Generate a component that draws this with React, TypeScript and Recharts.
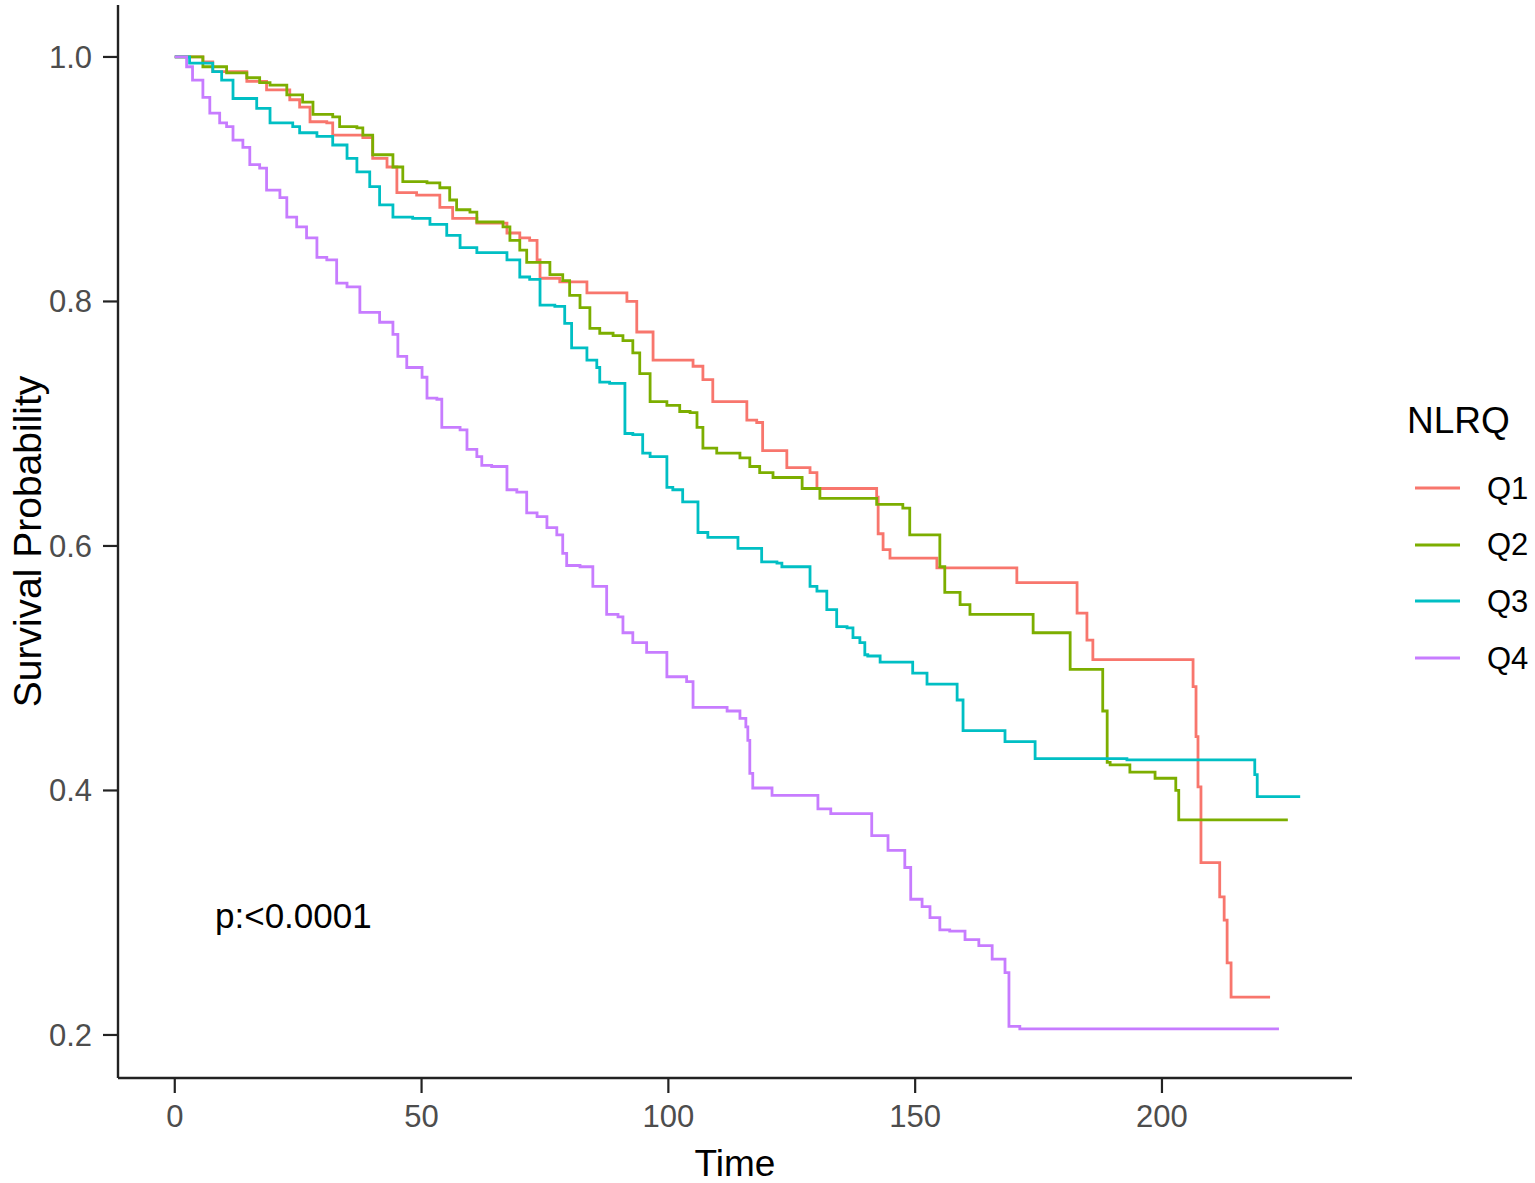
import { LineChart, Line, XAxis, YAxis } from 'recharts';

const FONT = '"Liberation Sans", Arial, Helvetica, sans-serif';

// Kaplan-Meier step points (time, survival after the step)
const q1Time = [0, 5.1, 5.7, 7.7, 14.6, 18.6, 23.3, 25.3, 27.4, 30.8, 32.0, 38.1, 40.1, 43.0, 45.0, 49.0, 53.7, 56.3, 61.2, 67.3, 69.9, 71.9, 73.4, 74.0, 78.0, 83.5, 91.6, 93.6, 95.8, 96.9, 105.0, 107.0, 109.0, 115.9, 117.9, 119.1, 124.0, 128.7, 130.1, 142.2, 142.5, 143.5, 144.9, 154.4, 170.6, 182.8, 184.8, 186.0, 206.3, 206.9, 207.3, 207.9, 211.7, 212.6, 213.2, 214.0, 221.9];
const q1Surv = [1.0, 1.0, 0.996, 0.988, 0.98, 0.973, 0.965, 0.959, 0.947, 0.946, 0.936, 0.934, 0.917, 0.91, 0.889, 0.887, 0.877, 0.868, 0.864, 0.856, 0.852, 0.85, 0.834, 0.819, 0.816, 0.807, 0.8, 0.775, 0.775, 0.752, 0.747, 0.736, 0.718, 0.703, 0.701, 0.678, 0.664, 0.66, 0.647, 0.64, 0.61, 0.597, 0.59, 0.582, 0.57, 0.545, 0.523, 0.507, 0.485, 0.444, 0.403, 0.341, 0.313, 0.294, 0.259, 0.231, 0.231];

const q2Time = [0, 5.7, 10.5, 14.6, 17.2, 19.3, 22.7, 25.9, 28.0, 32.0, 33.4, 36.9, 38.1, 40.1, 44.2, 46.2, 51.1, 53.7, 55.7, 57.1, 59.8, 61.2, 66.5, 67.9, 69.9, 71.3, 76.0, 78.6, 80.0, 82.1, 84.1, 86.1, 88.8, 90.8, 92.8, 94.2, 96.3, 99.7, 102.3, 104.4, 105.8, 107.0, 109.8, 114.5, 116.5, 118.5, 121.2, 127.1, 130.7, 142.2, 147.5, 148.9, 155.0, 156.0, 159.1, 161.1, 173.9, 181.4, 188.0, 188.9, 189.5, 193.5, 198.6, 202.8, 203.4, 225.5];
const q2Surv = [1.0, 0.992, 0.987, 0.983, 0.979, 0.977, 0.969, 0.963, 0.953, 0.951, 0.943, 0.942, 0.936, 0.92, 0.91, 0.898, 0.897, 0.893, 0.883, 0.875, 0.873, 0.865, 0.861, 0.85, 0.842, 0.832, 0.822, 0.817, 0.805, 0.795, 0.778, 0.774, 0.772, 0.768, 0.758, 0.741, 0.718, 0.715, 0.71, 0.709, 0.697, 0.68, 0.676, 0.672, 0.665, 0.66, 0.656, 0.647, 0.639, 0.634, 0.631, 0.609, 0.583, 0.562, 0.552, 0.544, 0.529, 0.499, 0.465, 0.423, 0.421, 0.415, 0.41, 0.4, 0.376, 0.376];

const q3Time = [0, 3.0, 7.7, 9.5, 11.8, 16.6, 19.3, 23.9, 25.3, 28.8, 32.0, 34.9, 36.9, 39.5, 41.5, 44.2, 48.2, 51.7, 55.1, 57.8, 61.2, 67.3, 69.9, 71.9, 74.0, 77.0, 79.0, 80.4, 83.5, 85.5, 86.1, 88.1, 91.2, 92.8, 94.8, 96.3, 99.7, 100.9, 102.9, 106.0, 108.0, 114.1, 118.9, 122.0, 123.0, 128.7, 130.1, 132.1, 134.1, 136.2, 137.4, 138.8, 139.8, 140.4, 142.9, 149.5, 152.4, 158.5, 159.7, 168.2, 174.3, 192.9, 218.8, 219.3, 228.0];
const q3Surv = [1.0, 0.995, 0.988, 0.981, 0.966, 0.958, 0.946, 0.943, 0.938, 0.935, 0.928, 0.917, 0.906, 0.894, 0.879, 0.869, 0.868, 0.863, 0.854, 0.844, 0.84, 0.834, 0.82, 0.818, 0.797, 0.796, 0.782, 0.762, 0.752, 0.746, 0.734, 0.733, 0.692, 0.691, 0.676, 0.673, 0.648, 0.646, 0.636, 0.611, 0.607, 0.598, 0.587, 0.586, 0.583, 0.567, 0.563, 0.548, 0.534, 0.533, 0.525, 0.521, 0.511, 0.51, 0.505, 0.496, 0.487, 0.474, 0.449, 0.44, 0.426, 0.425, 0.413, 0.395, 0.395];

const q4Time = [0, 2.4, 3.6, 5.7, 7.1, 9.1, 10.5, 11.8, 13.8, 15.2, 17.2, 18.6, 21.3, 22.7, 24.7, 26.7, 28.8, 30.8, 32.8, 34.9, 37.5, 41.5, 44.2, 45.2, 47.0, 50.1, 51.1, 53.1, 54.1, 57.8, 59.2, 61.2, 62.2, 64.2, 67.3, 69.3, 71.3, 73.4, 75.4, 77.4, 78.6, 79.4, 82.1, 84.7, 87.5, 89.8, 90.8, 92.8, 95.6, 99.7, 103.7, 105.0, 111.9, 114.5, 115.7, 116.1, 116.5, 117.1, 121.0, 130.3, 132.9, 141.2, 144.5, 147.9, 149.1, 151.4, 153.0, 155.0, 157.0, 160.1, 162.9, 165.6, 168.2, 169.0, 171.2, 223.7];
const q4Surv = [1.0, 0.992, 0.981, 0.967, 0.954, 0.946, 0.943, 0.932, 0.926, 0.912, 0.909, 0.891, 0.885, 0.869, 0.861, 0.852, 0.836, 0.834, 0.815, 0.812, 0.791, 0.783, 0.773, 0.755, 0.746, 0.738, 0.721, 0.72, 0.697, 0.695, 0.679, 0.673, 0.666, 0.665, 0.646, 0.644, 0.627, 0.624, 0.615, 0.609, 0.594, 0.584, 0.583, 0.567, 0.544, 0.542, 0.529, 0.521, 0.513, 0.493, 0.489, 0.468, 0.465, 0.459, 0.452, 0.441, 0.414, 0.402, 0.396, 0.385, 0.381, 0.363, 0.351, 0.337, 0.311, 0.305, 0.296, 0.286, 0.285, 0.278, 0.273, 0.262, 0.251, 0.207, 0.205, 0.205];

const groupNames = ['Q1', 'Q2', 'Q3', 'Q4'];
const groupColors = ['#F8766D', '#7CAE00', '#00BFC4', '#C77CFF'];
const xTicks = [0, 50, 100, 150, 200];
const yTicks = [0.2, 0.4, 0.6, 0.8, 1.0];
const pValueText = 'p:<0.0001';

const toPoints = (t: number[], s: number[]) => t.map((time, i) => ({ time, surv: s[i] }));
const curves = [toPoints(q1Time, q1Surv), toPoints(q2Time, q2Surv), toPoints(q3Time, q3Surv), toPoints(q4Time, q4Surv)];

const axisColor = '#222';
const lineWidth = 2.8;

export default function App() {
  return (
    <div style={{ position: 'absolute', left: 0, top: 0, width: 1535, height: 1183, background: '#fff', fontFamily: FONT }}>
      <LineChart width={1535} height={1183} margin={{ top: 5, right: 183, bottom: 0, left: 0 }}>
        <XAxis
          type="number"
          dataKey="time"
          domain={[-11.5, 238.5]}
          ticks={xTicks}
          allowDataOverflow
          height={105}
          tickSize={15}
          tickMargin={12}
          axisLine={{ stroke: axisColor, strokeWidth: 2.4 }}
          tickLine={{ stroke: axisColor, strokeWidth: 2.2 }}
          tick={{ fill: '#4D4D4D', fontSize: 31, fontFamily: FONT }}
          label={{
            content: ({ viewBox }: any) => (
              <text x={viewBox.x + viewBox.width / 2} y={viewBox.y + 98} textAnchor="middle" fontSize={37} fontFamily={FONT} fill="#000">
                Time
              </text>
            ),
          }}
        />
        <YAxis
          type="number"
          dataKey="surv"
          domain={[0.1648, 1.0425]}
          ticks={yTicks}
          allowDataOverflow
          width={118}
          tickSize={15}
          tickMargin={11}
          tickFormatter={(v: number) => v.toFixed(1)}
          axisLine={{ stroke: axisColor, strokeWidth: 2.4 }}
          tickLine={{ stroke: axisColor, strokeWidth: 2.2 }}
          tick={{ fill: '#4D4D4D', fontSize: 31, fontFamily: FONT }}
          label={{
            content: ({ viewBox }: any) => {
              const cy = viewBox.y + viewBox.height / 2;
              return (
                <text x={27} y={cy} transform={`rotate(-90 27 ${cy})`} textAnchor="middle" dominantBaseline="central" fontSize={39} fontFamily={FONT} fill="#000">
                  Survival Probability
                </text>
              );
            },
          }}
        />
        {curves.map((pts, i) => (
          <Line
            key={groupNames[i]}
            data={pts}
            dataKey="surv"
            name={groupNames[i]}
            type="stepAfter"
            stroke={groupColors[i]}
            strokeWidth={lineWidth}
            dot={false}
            activeDot={false}
            isAnimationActive={false}
          />
        ))}
      </LineChart>

      <div style={{ position: 'absolute', left: 215, top: 926, transform: 'translateY(-80%)', fontSize: 35, color: '#000', whiteSpace: 'nowrap', lineHeight: 1 }}>
        {pValueText}
      </div>

      <div style={{ position: 'absolute', left: 1407, top: 402, fontSize: 37, color: '#000', lineHeight: 1 }}>NLRQ</div>
      {groupNames.map((name, i) => (
        <div key={name} style={{ position: 'absolute', left: 1413, top: 488 + i * 56.7 - 20, height: 40, display: 'flex', alignItems: 'center' }}>
          <svg width={50} height={40} style={{ display: 'block' }}>
            <line x1={2} x2={47} y1={20} y2={20} stroke={groupColors[i]} strokeWidth={lineWidth} />
          </svg>
          <span style={{ marginLeft: 24, fontSize: 31, color: '#000', lineHeight: 1 }}>{name}</span>
        </div>
      ))}
    </div>
  );
}
